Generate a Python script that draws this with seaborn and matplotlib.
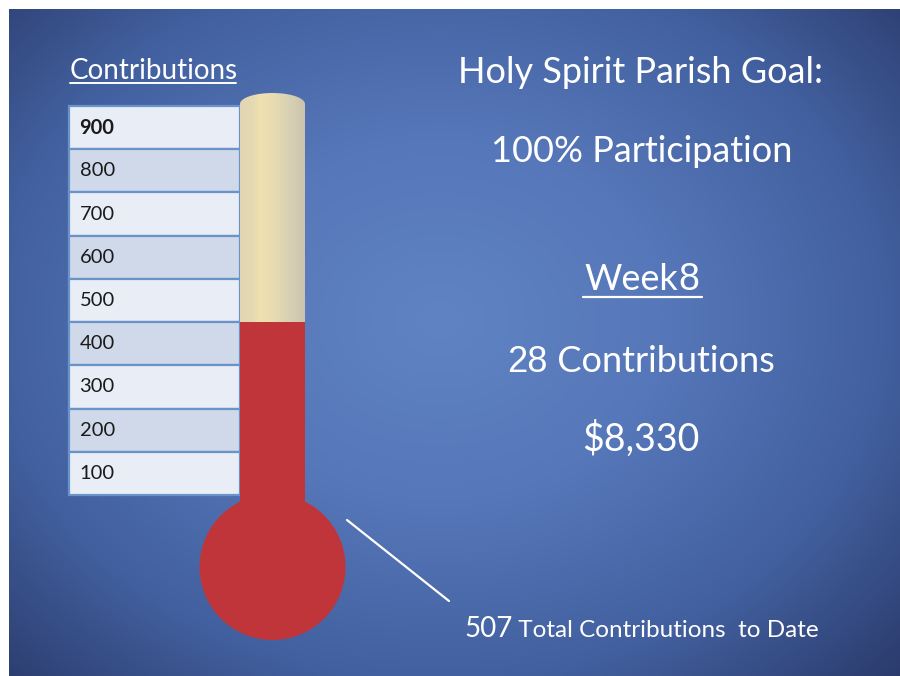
import numpy as np
import matplotlib
matplotlib.use("Agg")
import matplotlib.pyplot as plt
from matplotlib.colors import LinearSegmentedColormap
from matplotlib.patches import Ellipse, PathPatch
from matplotlib.path import Path
import seaborn as sns

sns.set_theme(style="white")
plt.rcParams["font.family"] = ["Lato", "DejaVu Sans"]

# values
row_labels = ["900", "800", "700", "600", "500", "400", "300", "200", "100"]
row_values = [900, 800, 700, 600, 500, 400, 300, 200, 100]
fill_level = 400          # red column stops at the 400/500 line on the slide
goal_title = "Holy Spirit Parish Goal:"
goal_text = "100% Participation"
week_no = "8"
week_count = "28"
week_amount = "$8,330"
total_to_date = "507"

W, H = 900, 676
fig = plt.figure(figsize=(9, 6.76), dpi=100, facecolor="white")

# slide background, radial blue
bg = fig.add_axes([0, 0, 1, 1])
bg.set_xlim(0, W)
bg.set_ylim(H, 0)
bg.axis("off")
xx, yy = np.meshgrid(np.linspace(9, W, 450), np.linspace(9, H, 340))
r = np.sqrt(((xx - 440) / 470) ** 2 + ((yy - 320) / 380) ** 2)
slide_cmap = LinearSegmentedColormap.from_list(
    "slide", [(0, "#6084c3"), (0.35, "#5677b9"), (0.7, "#42609f"), (1, "#2b3b6c")])
bg.imshow(r, cmap=slide_cmap, vmin=0, vmax=r.max(), extent=(9, W, H, 9),
          aspect="auto", interpolation="bilinear")

# pixel <-> value mapping of the scale (row 100 bottom at y=495, row 900 top at y=106)
top_px, bot_px = 106, 495
ppu = (bot_px - top_px) / 900.0


def v_of(ypx):
    return (bot_px - ypx) / ppu


# table of levels
tab_l, tab_r = 69, 240
ax_tab = fig.add_axes([tab_l / W, 1 - bot_px / H, (tab_r - tab_l) / W, (bot_px - top_px) / H])
row_colors = ["#e9edf6" if i % 2 == 0 else "#d0d9ea" for i in range(len(row_labels))]
sns.barplot(x=[1] * len(row_labels), y=row_labels, hue=row_labels, palette=row_colors,
            orient="h", width=1.0, edgecolor="#6a93c9", linewidth=1.6, legend=False,
            saturation=1, ax=ax_tab)
for p in ax_tab.patches:
    p.set_clip_on(False)
ax_tab.set_xlim(0, 1)
ax_tab.set_ylim(len(row_labels) - 0.5, -0.5)
ax_tab.axis("off")
for i, lab in enumerate(row_labels):
    ax_tab.text(0.062, i, lab, va="center", ha="left", fontsize=14.5, color="#1a1a1a",
                fontweight="bold" if i == 0 else "normal")

# thermometer
th_l, th_r = 190, 355
vlo, vhi = v_of(645), v_of(90)
ax_th = fig.add_axes([th_l / W, 1 - (bot_px - vlo * ppu) / H, (th_r - th_l) / W, (vhi - vlo) * ppu / H])
ax_th.set_xlim(th_l, th_r)
ax_th.set_ylim(vlo, vhi)
ax_th.axis("off")
ax_th.patch.set_alpha(0)

tx0, tx1 = 240, 305
cap_top = v_of(93)
cap_b = 11 / ppu
yc = cap_top - cap_b
t = np.linspace(0, np.pi, 60)
verts = [(tx0, 0), (tx1, 0), (tx1, yc)] + list(zip((tx0 + tx1) / 2 + (tx1 - tx0) / 2 * np.cos(t),
                                                       yc + cap_b * np.sin(t))) + [(tx0, yc), (tx0, 0)]
tube = PathPatch(Path(verts), facecolor="none", edgecolor="none", transform=ax_th.transData)
ax_th.add_patch(tube)
cream = LinearSegmentedColormap.from_list(
    "cream", [(0, "#e0d6b4"), (0.2, "#e6dab2"), (0.3, "#efe1b0"), (0.5, "#e8dcb2"),
              (0.8, "#d6ceb4"), (1, "#cac3ad")])
im = ax_th.imshow(np.linspace(0, 1, 100)[None, :], cmap=cream, extent=(tx0, tx1, 0, cap_top),
                  aspect="auto", interpolation="bilinear")
im.set_clip_path(tube)

red = "#c0353a"
bulb_c = v_of(567)
ax_th.bar((tx0 + tx1) / 2, fill_level - bulb_c, bottom=bulb_c, width=tx1 - tx0, color=red,
          linewidth=0)
ax_th.add_patch(Ellipse(((tx0 + tx1) / 2, bulb_c), 146, 146 / ppu, color=red, linewidth=0))

# pointer line
bg.plot([347, 449], [520, 601], color="white", lw=1.6, solid_capstyle="round")

renderer = fig.canvas.get_renderer()


def runs(x, y, parts, ha="center"):
    objs = [bg.text(0, y, s, va="baseline", ha="left", color="white", **kw) for s, kw in parts]
    widths = [o.get_window_extent(renderer).width for o in objs]
    total = sum(widths)
    start = x - total / 2 if ha == "center" else x
    for o, w in zip(objs, widths):
        o.set_x(start)
        start += w
    return objs


bg.text(70, 79, "Contributions", fontsize=20, color="white", va="baseline", ha="left")
bg.plot([70, 236], [83, 83], color="white", lw=1.4)

bg.text(641, 83, goal_title, fontsize=26, color="white", va="baseline", ha="center")
bg.text(642, 162, goal_text, fontsize=26, color="white", va="baseline", ha="center")
runs(642, 290, [("Week", dict(fontsize=26)), (week_no, dict(fontsize=27, family="Liberation Sans"))])
bg.plot([583, 702], [297, 297], color="white", lw=1.6)
runs(641, 372, [(week_count, dict(fontsize=26, family="Liberation Sans")),
                (" Contributions", dict(fontsize=26))])
bg.text(641, 451, week_amount, fontsize=27, color="white", va="baseline", ha="center")
runs(464, 637, [(total_to_date, dict(fontsize=20)), (" Total Contributions  to Date", dict(fontsize=17.5))],
     ha="left")

fig.savefig("out.png", dpi=100, facecolor="white")
